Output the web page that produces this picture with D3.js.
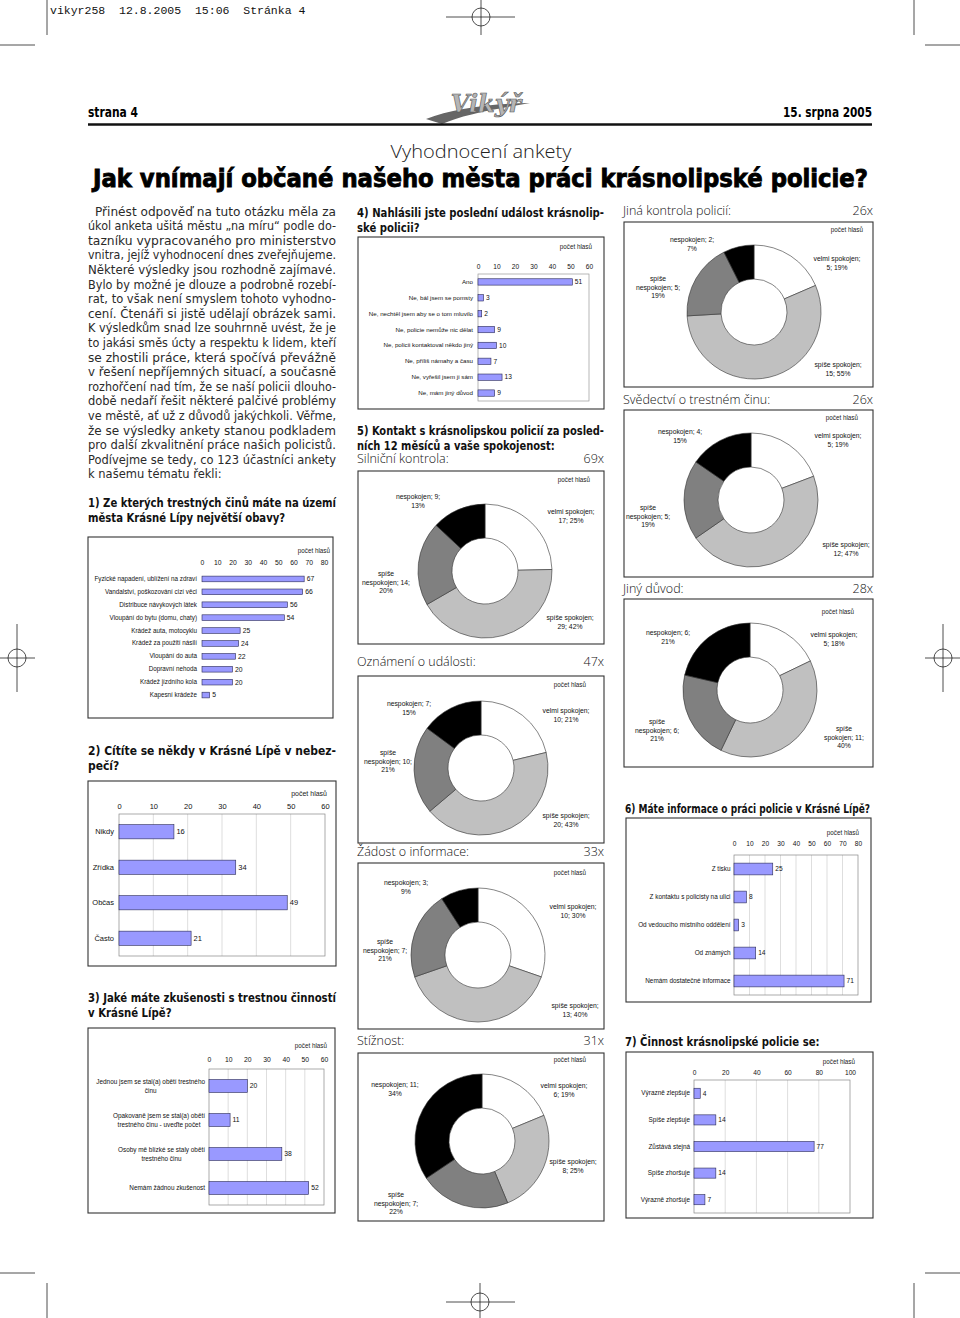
<!DOCTYPE html>
<html><head><meta charset="utf-8">
<script src="https://cdn.jsdelivr.net/npm/d3@7"></script>
<style>html,body{margin:0;padding:0;background:#fff;}svg{display:block;}</style>
</head><body>
<script>
// ---------------- DATA ----------------
const introLines = [
  "Přinést odpověď na tuto otázku měla za",
  "úkol anketa ušitá městu „na míru“ podle do-",
  "tazníku vypracovaného pro ministerstvo",
  "vnitra, jejíž vyhodnocení dnes zveřejňujeme.",
  "Některé výsledky jsou rozhodně zajímavé.",
  "Bylo by možné je dlouze a podrobně rozebí-",
  "rat, to však není smyslem tohoto vyhodno-",
  "cení. Čtenáři si jistě udělají obrázek sami.",
  "K výsledkům snad lze souhrnně uvést, že je",
  "to jakási směs úcty a respektu k lidem, kteří",
  "se zhostili práce, která spočívá převážně",
  "v řešení nepříjemných situací, a současně",
  "rozhořčení nad tím, že se naší policii dlouho-",
  "době nedaří řešit některé palčivé problémy",
  "ve městě, ať už z důvodů jakýchkoli. Věřme,",
  "že se výsledky ankety stanou podkladem",
  "pro další zkvalitnění práce našich policistů.",
  "Podívejme se tedy, co 123 účastníci ankety",
  "k našemu tématu řekli:"
];
const q1Lines = ["1) Ze kterých trestných činů máte na území", "města Krásné Lípy největší obavy?"];
const q2Lines = ["2) Cítíte se někdy v Krásné Lípě v nebez-", "pečí?"];
const q3Lines = ["3) Jaké máte zkušenosti s trestnou činností", "v Krásné Lípě?"];
const q4Lines = ["4) Nahlásili jste poslední událost krásnolip-", "ské policii?"];
const q5Lines = ["5) Kontakt s krásnolipskou policií za posled-", "ních 12 měsíců a vaše spokojenost:"];
const q6Lines = ["6) Máte informace o práci policie v Krásné Lípě?"];
const q7Lines = ["7) Činnost krásnolipské policie se:"];

const unitLabel = "počet hlasů";

const crimeCategories = ["Fyzické napadení, ublížení na zdraví","Vandalství, poškozování cizí věci","Distribuce návykových látek","Vloupání do bytu (domu, chaty)","Krádež auta, motocyklu","Krádež za použití násilí","Vloupání do auta","Dopravní nehoda","Krádež jízdního kola","Kapesní krádeže"];
const crimeVotes = [67,66,56,54,25,24,22,20,20,5];
const crimeTicks = [0,10,20,30,40,50,60,70,80];

const dangerCategories = ["Nikdy","Zřídka","Občas","Často"];
const dangerVotes = [16,34,49,21];
const dangerTicks = [0,10,20,30,40,50,60];

const experienceCategories = ["Jednou jsem se stal(a) obětí trestného\nčinu","Opakovaně jsem se stal(a) obětí\ntrestného činu - uveďte počet","Osoby mě blízké se staly obětí\ntrestného činu","Nemám žádnou zkušenost"];
const experienceVotes = [20,11,38,52];
const experienceTicks = [0,10,20,30,40,50,60];

const reportCategories = ["Ano","Ne, bál jsem se pomsty","Ne, nechtěl jsem aby se o tom mluvilo","Ne, policie nemůže nic dělat","Ne, policii kontaktoval někdo jiný","Ne, příliš námahy a času","Ne, vyřešil jsem ji sám","Ne, mám jiný důvod"];
const reportVotes = [51,3,2,9,10,7,13,9];
const reportTicks = [0,10,20,30,40,50,60];

const infoCategories = ["Z tisku","Z kontaktu s policisty na ulici","Od vedoucího místního oddělení","Od známých","Nemám dostatečné informace"];
const infoVotes = [25,8,3,14,71];
const infoTicks = [0,10,20,30,40,50,60,70,80];

const trendCategories = ["Výrazně zlepšuje","Spíše zlepšuje","Zůstává stejná","Spíše zhoršuje","Výrazně zhoršuje"];
const trendVotes = [4,14,77,14,7];
const trendTicks = [0,20,40,60,80,100];

const satisfactionLevels = ["velmi spokojen","spíše spokojen","spíše nespokojen","nespokojen"];
const contactTypes  = ["Silniční kontrola","Oznámení o události","Žádost o informace","Stížnost","Jiná kontrola policií","Svědectví o trestném činu","Jiný důvod"];
const contactTotals = [69,47,33,31,26,26,28];
const roadCheckVotes   = [17,29,14,9];  const roadCheckPct   = [25,42,20,13];
const eventReportVotes = [10,20,10,7];  const eventReportPct = [21,43,21,15];
const infoRequestVotes = [10,13,7,3];   const infoRequestPct = [30,40,21,9];
const complaintVotes   = [6,8,7,11];    const complaintPct   = [19,25,22,34];
const otherCheckVotes  = [5,15,5,2];    const otherCheckPct  = [19,55,19,7];
const testimonyVotes   = [5,12,5,4];    const testimonyPct   = [19,47,19,15];
const otherReasonVotes = [5,11,6,6];    const otherReasonPct = [18,40,21,21];

// ---------------- SETUP ----------------
const F_ARIAL = "'Liberation Sans', Arial, sans-serif";
const F_BODY  = "'DejaVu Sans', sans-serif";
const F_COND  = "'DejaVu Sans Condensed', 'DejaVu Sans', sans-serif";
const F_LIGHT = "'Open Sans', 'Lato', 'DejaVu Sans', sans-serif";
const F_MONO  = "'Liberation Mono', 'DejaVu Sans Mono', monospace";
const BAR_FILL = "#9999ff", BAR_STROKE = "#2a2a55";
const SLICE_FILLS = ["#ffffff","#c0c0c0","#808080","#000000"];

const svg = d3.select("body").append("svg").attr("width",960).attr("height",1318);
svg.append("rect").attr("width",960).attr("height",1318).attr("fill","#fff");

// crop marks
const marks = svg.append("g").attr("stroke","#222").attr("stroke-width",0.8).attr("fill","none");
function ln(x1,y1,x2,y2){ marks.append("line").attr("x1",x1).attr("y1",y1).attr("x2",x2).attr("y2",y2); }
function circ(cx,cy,r){ marks.append("circle").attr("cx",cx).attr("cy",cy).attr("r",r); }
ln(47,0,47,35); ln(914,0,914,35); ln(0,45,35,45); ln(925,45,960,45);
ln(481,0,481,35); ln(446,17,515,17); circ(481,17,9);
ln(47,1283,47,1318); ln(914,1283,914,1318); ln(0,1273,35,1273); ln(925,1273,960,1273);
ln(480,1283,480,1318); ln(446,1302,515,1302); circ(480,1302,9);
ln(0,658,35,658); ln(17,624,17,692); circ(17,658,9);
ln(925,658,960,658); ln(943,624,943,692); circ(943,658,9);

svg.append("text").attr("x",50).attr("y",14).attr("font-family",F_MONO).attr("font-size",11.5)
  .style("white-space","pre").attr("fill","#111").text("vikyr258  12.8.2005  15:06  Stránka 4");

// header
svg.append("text").attr("x",88).attr("y",117).attr("font-family",F_COND)
  .attr("font-weight","bold").attr("font-size",14).attr("textLength",50).attr("lengthAdjust","spacingAndGlyphs").text("strana 4");
svg.append("text").attr("x",872).attr("y",117).attr("text-anchor","end").attr("font-family",F_COND)
  .attr("font-weight","bold").attr("font-size",14).attr("textLength",89).attr("lengthAdjust","spacingAndGlyphs").text("15. srpna 2005");
// logo
const logo = svg.append("g");
logo.append("path").attr("d","M426,119 C452,109 486,104 530,103 C494,109 462,115 442,124 Z").attr("fill","#666");
logo.append("text").attr("x",486).attr("y",112).attr("text-anchor","middle").attr("font-family","'DejaVu Serif',serif")
  .attr("font-style","italic").attr("font-weight","bold").attr("font-size",24).attr("fill","#b5b5b5")
  .attr("stroke","#555").attr("stroke-width",0.6).text("Vikýř");
svg.append("line").attr("x1",88).attr("x2",872).attr("y1",124.5).attr("y2",124.5).attr("stroke","#111").attr("stroke-width",2.5);

svg.append("text").attr("x",481).attr("y",158).attr("text-anchor","middle").attr("font-family",F_LIGHT)
  .attr("font-weight",300).attr("font-size",17.5).attr("textLength",181).attr("lengthAdjust","spacingAndGlyphs").attr("fill","#222")
  .text("Vyhodnocení ankety");

// text block helper
function textBlock(o){
  const g = svg.append("g").attr("font-family",o.font).attr("font-size",o.size)
    .attr("font-weight",o.weight||"normal").attr("fill",o.fill||"#1a1a1a");
  if (o.stroke) g.attr("stroke",o.stroke).attr("stroke-width",o.strokeWidth);
  const indent = o.indent||0;
  const nodes = o.lines.map((s,i)=>g.append("text").attr("x",o.x+(i===0?indent:0)).attr("y",o.y+i*(o.lh||0)).text(s));
  const rs=[];
  nodes.forEach((n,i)=>{
    const last = i===o.lines.length-1;
    if (!last || o.justifyLast){
      const w = n.node().getComputedTextLength();
      const t = o.width-(i===0?indent:0);
      rs.push(t/w);
      n.attr("textLength",t).attr("lengthAdjust","spacingAndGlyphs");
    }
  });
  const r = o.ratio || d3.median(rs) || 1;
  nodes.forEach((n,i)=>{
    if (i===o.lines.length-1 && !o.justifyLast){
      const w = n.node().getComputedTextLength();
      n.attr("textLength",w*r).attr("lengthAdjust","spacingAndGlyphs");
    }
  });
  return r;
}

// big title
textBlock({lines:["Jak vnímají občané našeho města práci krásnolipské policie?"],x:93,y:187,width:775,
  font:F_COND,size:24,weight:"bold",justifyLast:true,fill:"#000",stroke:"#000",strokeWidth:0.8});

// intro
textBlock({lines:introLines,x:88,y:215.5,lh:14.6,width:248,indent:7,font:F_BODY,size:11.8,fill:"#2a2a2a"});

// headings
const HB = {font:F_COND,size:11.5,weight:"bold",fill:"#111",lh:15};
const hr = textBlock(Object.assign({lines:q1Lines,x:88,y:506.5,width:248},HB));
textBlock(Object.assign({lines:q2Lines,x:88,y:754.5,width:248},HB));
textBlock(Object.assign({lines:q3Lines,x:88,y:1001.5,width:248},HB));
textBlock(Object.assign({lines:q4Lines,x:357,y:216.5,width:247},HB));
textBlock(Object.assign({lines:q5Lines,x:357,y:434.5,width:247},HB));
textBlock(Object.assign({lines:q6Lines,x:625,y:812.5,width:245,justifyLast:true},HB));
textBlock(Object.assign({lines:q7Lines,x:625,y:1045.5,width:245,ratio:hr},HB));

// ---------------- BAR CHARTS ----------------
function barChart(c){
  const g = svg.append("g");
  g.append("rect").attr("x",c.box[0]).attr("y",c.box[1]).attr("width",c.box[2]-c.box[0]).attr("height",c.box[3]-c.box[1])
    .attr("fill","#fff").attr("stroke","#333").attr("stroke-width",1.1);
  const x = d3.scaleLinear().domain([c.ticks[0],c.ticks[c.ticks.length-1]]).range(c.xRange);
  const y = d3.scaleBand().domain(c.categories).range(c.bandRange).paddingInner(c.padding).paddingOuter(c.padding/2);
  if (c.grid){
    g.selectAll(".grid").data(c.ticks.slice(1,-1)).join("line")
      .attr("x1",d=>x(d)).attr("x2",d=>x(d)).attr("y1",c.bandRange[0]).attr("y2",c.bandRange[1])
      .attr("stroke","#c8c8c8").attr("stroke-width",0.6);
  }
  if (c.frame){
    g.append("rect").attr("x",c.xRange[0]).attr("y",c.bandRange[0]).attr("width",c.xRange[1]-c.xRange[0])
      .attr("height",c.bandRange[1]-c.bandRange[0]).attr("fill","none").attr("stroke",c.frameColor||"#888").attr("stroke-width",0.7);
  }
  const ax = g.append("g").attr("transform",`translate(0,${c.tickY})`)
    .call(d3.axisTop(x).tickValues(c.ticks).tickSize(0).tickPadding(0).tickFormat(d3.format("d")));
  ax.select(".domain").remove();
  ax.attr("font-family",F_ARIAL).attr("font-size",c.tickFs);
  ax.selectAll("text").attr("fill","#111");
  g.append("text").attr("x",c.unit[0]).attr("y",c.unit[1]).attr("text-anchor","end").attr("font-family",F_ARIAL)
    .attr("font-size",c.unitFs||6.3).attr("fill","#222").text(unitLabel);
  const cat = g.append("g").attr("transform",`translate(${c.xRange[0]},0)`)
    .call(d3.axisLeft(y).tickSize(0).tickPadding(c.labelPad));
  cat.select(".domain").remove();
  cat.attr("font-family",F_ARIAL).attr("font-size",c.fs);
  cat.selectAll("text").attr("fill","#111");
  if (c.multiline){
    cat.selectAll("text").each(function(d){
      const t = d3.select(this); const parts = d.split("\n");
      t.text(null).attr("dy",null).attr("text-anchor","middle");
      const spans = parts.map((p,i)=>t.append("tspan").text(p));
      const maxW = d3.max(spans.map(s=>s.node().getComputedTextLength()));
      const cx = -c.labelPad - maxW/2;
      const lh = c.fs*1.38;
      spans.forEach((s,i)=>s.attr("x",cx).attr("y",(i-(parts.length-1)/2)*lh).attr("dy","0.35em"));
    });
  }
  g.selectAll(".bar").data(c.values).join("rect")
    .attr("x",x(0)).attr("y",(d,i)=>y(c.categories[i]))
    .attr("width",d=>x(d)-x(0)).attr("height",y.bandwidth())
    .attr("fill",BAR_FILL).attr("stroke",BAR_STROKE).attr("stroke-width",0.6);
  g.selectAll(".val").data(c.values).join("text")
    .attr("x",d=>x(d)+2.5).attr("y",(d,i)=>y(c.categories[i])+y.bandwidth()/2).attr("dy","0.35em")
    .attr("font-family",F_ARIAL).attr("font-size",c.valFs||c.fs).attr("fill","#111").text(d=>d);
}

barChart({box:[88,537,333,718],categories:crimeCategories,values:crimeVotes,ticks:crimeTicks,
  xRange:[202,324],bandRange:[572.5,701.5],padding:0.56,tickY:565,unit:[330,553],
  fs:6.3,tickFs:6.8,valFs:6.8,labelPad:5,grid:false,frame:false});
barChart({box:[88,781,336,966],categories:dangerCategories,values:dangerVotes,ticks:dangerTicks,
  xRange:[119,325],bandRange:[814,956],padding:0.6,tickY:809,unit:[327,796],unitFs:7,
  fs:7.5,tickFs:7.5,labelPad:5,grid:true,frame:true});
barChart({box:[88,1028,335,1213],categories:experienceCategories,values:experienceVotes,ticks:experienceTicks,
  xRange:[209,324],bandRange:[1069,1205],padding:0.62,tickY:1062,unit:[327,1048],
  fs:6.4,tickFs:6.8,valFs:6.8,labelPad:4,grid:true,frame:true,multiline:true});
barChart({box:[358,237,604,409],categories:reportCategories,values:reportVotes,ticks:reportTicks,
  xRange:[478,589],bandRange:[274,401],padding:0.6,tickY:269,unit:[592,249],
  fs:6.2,tickFs:6.6,valFs:6.6,labelPad:5,grid:false,frame:true,frameColor:"#999"});
barChart({box:[626,818,871,1002],categories:infoCategories,values:infoVotes,ticks:infoTicks,
  xRange:[734,858],bandRange:[855,995],padding:0.58,tickY:846,unit:[859,835],
  fs:6.4,tickFs:6.6,valFs:6.6,labelPad:3.5,grid:true,frame:true});
barChart({box:[626,1052,873,1218],categories:trendCategories,values:trendVotes,ticks:trendTicks,
  xRange:[694,850],bandRange:[1080,1213],padding:0.62,tickY:1075,unit:[855,1064],
  fs:6.4,tickFs:6.6,valFs:6.6,labelPad:4,grid:true,frame:true});

// ---------------- DONUTS ----------------
const donutData = [
  {votes:roadCheckVotes,pct:roadCheckPct},
  {votes:eventReportVotes,pct:eventReportPct},
  {votes:infoRequestVotes,pct:infoRequestPct},
  {votes:complaintVotes,pct:complaintPct},
  {votes:otherCheckVotes,pct:otherCheckPct},
  {votes:testimonyVotes,pct:testimonyPct},
  {votes:otherReasonVotes,pct:otherReasonPct}
];
// layout (positions only)
const donutLayout = [
  {box:[358,471,604,644],titleY:463,c:[485,571],unit:[590,482],off:[[86,-59],[85,47],[-99,3],[-67,-74]]},
  {box:[358,676,604,843],titleY:666,c:[481,768],unit:[586,687],off:[[85,-57],[85,48],[-93,-15],[-72,-64]]},
  {box:[358,863,604,1029],titleY:856,c:[478,955],unit:[586,875],off:[[95,-48],[97,51],[-93,-13],[-72,-72]]},
  {box:[358,1053,604,1221],titleY:1045,c:[482,1141],unit:[586,1062],off:[[82,-55],[91,21],[-86,54],[-87,-56]]},
  {box:[624,222,873,387],titleY:215,c:[754,312],unit:[863,232],off:[[83,-53],[84,53],[-96,-33],[-62,-72]]},
  {box:[624,410,873,577],titleY:404,c:[751,500],unit:[858,420],off:[[87,-64],[95,45],[-103,8],[-71,-68]]},
  {box:[624,599,873,767],titleY:593,c:[750,690],unit:[854,614],off:[[84,-55],[94,39],[-93,32],[-82,-57]],wrapSpok:true}
];
function labelLines(level,v,p,wrapSpok){
  if (level==="velmi spokojen") return ["velmi spokojen;",`${v}; ${p}%`];
  if (level==="spíše spokojen") return wrapSpok ? ["spíše",`spokojen; ${v};`,`${p}%`] : ["spíše spokojen;",`${v}; ${p}%`];
  if (level==="spíše nespokojen") return ["spíše",`nespokojen; ${v};`,`${p}%`];
  return [`nespokojen; ${v};`,`${p}%`];
}
const pie = d3.pie().sort(null).value(d=>d.v);
const arc = d3.arc().innerRadius(33).outerRadius(67);
donutData.forEach((dd,k)=>{
  const L = donutLayout[k];
  const g = svg.append("g");
  g.append("text").attr("x",L.box[0]-1).attr("y",L.titleY).attr("font-family",F_LIGHT).attr("font-weight",300)
    .attr("font-size",12.5).attr("fill","#111").text(contactTypes[k]+":");
  g.append("text").attr("x",L.box[2]).attr("y",L.titleY).attr("text-anchor","end").attr("font-family",F_LIGHT).attr("font-weight",300)
    .attr("font-size",12.5).attr("fill","#111").text(contactTotals[k]+"x");
  g.append("rect").attr("x",L.box[0]).attr("y",L.box[1]).attr("width",L.box[2]-L.box[0]).attr("height",L.box[3]-L.box[1])
    .attr("fill","#fff").attr("stroke","#333").attr("stroke-width",1.1);
  g.append("text").attr("x",L.unit[0]).attr("y",L.unit[1]).attr("text-anchor","end").attr("font-family",F_ARIAL)
    .attr("font-size",6.3).attr("fill","#222").text(unitLabel);
  const items = satisfactionLevels.map((s,i)=>({s,v:dd.votes[i],p:dd.pct[i],i}));
  const dg = g.append("g").attr("transform",`translate(${L.c[0]},${L.c[1]})`);
  dg.selectAll("path").data(pie(items)).join("path").attr("d",arc)
    .attr("fill",d=>SLICE_FILLS[d.data.i]).attr("stroke","#333").attr("stroke-width",0.6);
  items.forEach((it,i)=>{
    const lines = labelLines(it.s,it.v,it.p,L.wrapSpok);
    const t = g.append("text").attr("font-family",F_ARIAL).attr("font-size",6.8).attr("fill","#111").attr("text-anchor","middle");
    lines.forEach((ln,j)=>t.append("tspan").attr("x",L.c[0]+L.off[i][0]).attr("y",L.c[1]+L.off[i][1]+j*8.4).attr("dy","0.35em").text(ln));
  });
});
</script>
</body></html>
